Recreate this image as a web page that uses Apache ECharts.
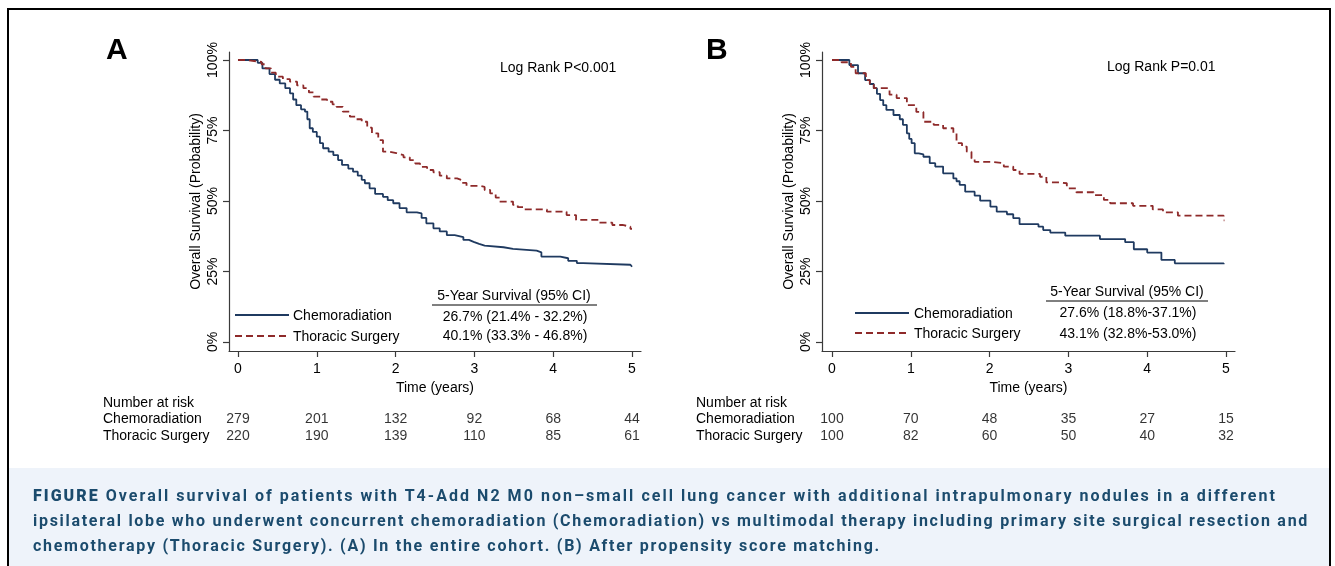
<!DOCTYPE html>
<html><head><meta charset="utf-8">
<script src="https://cdn.jsdelivr.net/npm/echarts@6/dist/echarts.min.js"></script>
<style>
html,body{margin:0;padding:0;background:#fff;}
#wrap{position:relative;width:1335px;height:566px;overflow:hidden;}
#chart{position:absolute;left:0;top:0;width:1335px;height:566px;}
#caption{position:absolute;left:33px;top:483px;font-family:Roboto,"Liberation Sans",sans-serif;font-weight:700;font-size:16px;line-height:25px;color:#1b4b6d;white-space:nowrap;}
#caption .ln{display:block;}
#caption .ln span{display:inline-block;}
#caption b{font-weight:900;}
</style></head><body>
<div id="wrap"><div id="chart"></div>
<div id="caption">
<div class="ln"><span><b>FIGURE</b> Overall survival of patients with T4-Add N2 M0 non–small cell lung cancer with additional intrapulmonary nodules in a different</span></div>
<div class="ln"><span>ipsilateral lobe who underwent concurrent chemoradiation (Chemoradiation) vs multimodal therapy including primary site surgical resection and</span></div>
<div class="ln"><span>chemotherapy (Thoracic Surgery). (A) In the entire cohort. (B) After propensity score matching.</span></div>
</div></div>
<script>
// ---------- data ----------
const years = [0, 1, 2, 3, 4, 5];
const yTicks = [0, 25, 50, 75, 100];
const groups = ['Chemoradiation', 'Thoracic Surgery'];

// Kaplan-Meier estimates [time (years), survival %]
const kmA_chemo = [[0,100],[0.25,99],[0.31,97],[0.4,95],[0.47,93],[0.53,91.7],[0.6,90],[0.66,88.2],[0.7,86],[0.74,84],[0.8,82.5],[0.85,81.7],[0.88,79],[0.91,75.8],[0.95,74.5],[1.0,72.8],[1.04,70.5],[1.08,68.7],[1.15,67.5],[1.21,66.3],[1.27,64.5],[1.32,62.8],[1.4,61.5],[1.46,60.4],[1.52,59],[1.57,57.5],[1.61,56.3],[1.67,54.5],[1.74,52.5],[1.84,51.5],[1.9,50.3],[1.97,49.2],[2.05,47.5],[2.14,46],[2.27,45.6],[2.33,44],[2.39,42.1],[2.48,40.3],[2.56,39.2],[2.65,37.9],[2.75,37.2],[2.86,36.2],[2.93,35.5],[2.99,34.8],[3.06,34.2],[3.13,33.6],[3.37,33],[3.49,32.4],[3.79,31.8],[3.85,30.3],[4.09,29.7],[4.19,28.8],[4.3,28],[4.38,27.4],[4.98,26.7],[5.0,26.7]];
const kmA_thor = [[0,100],[0.1,99.3],[0.3,98.5],[0.35,97],[0.42,95.5],[0.48,94.1],[0.57,93.2],[0.66,92.3],[0.75,91],[0.83,90],[0.9,88.5],[0.96,87],[1.05,86],[1.13,85.2],[1.2,84.3],[1.25,83.4],[1.33,81.7],[1.42,79.9],[1.5,79],[1.57,78.1],[1.64,76],[1.7,74],[1.78,71.6],[1.84,67.5],[1.92,67],[2.01,66.3],[2.1,65.5],[2.18,64.5],[2.25,63.3],[2.31,62.1],[2.4,61],[2.48,60.2],[2.56,59],[2.65,58],[2.78,57.4],[2.84,56.4],[2.9,55.4],[3.07,55],[3.13,53.9],[3.2,52.7],[3.27,51.2],[3.32,49.8],[3.49,48.6],[3.55,47.8],[3.62,47],[3.92,46.2],[4.17,45],[4.29,43.3],[4.58,42.3],[4.75,41.5],[4.88,40.9],[4.98,40.1],[5.0,40.1]];
const kmB_chemo = [[0,100],[0.22,98.2],[0.33,95.3],[0.42,92.9],[0.48,91.5],[0.53,90],[0.57,88],[0.61,85.8],[0.65,84],[0.69,82.3],[0.78,80.5],[0.86,79],[0.9,77],[0.95,74],[0.98,72],[1.01,70.5],[1.05,66.9],[1.1,66.5],[1.16,65.7],[1.24,63.4],[1.31,62.2],[1.41,59.8],[1.54,58],[1.58,57],[1.62,55.7],[1.69,53.3],[1.81,51.9],[1.88,50.1],[2.01,48],[2.09,46.2],[2.22,45.3],[2.3,43.9],[2.38,41.8],[2.62,40.9],[2.68,39.7],[2.77,38.8],[2.96,37.7],[3.4,36.5],[3.72,35.4],[3.83,32.9],[4.0,31.7],[4.18,29.1],[4.35,27.9],[4.97,27.6]];
const kmB_thor = [[0,100],[0.12,99.2],[0.24,97.6],[0.3,95.3],[0.43,92.9],[0.48,91.5],[0.53,90],[0.73,87.7],[0.82,86.5],[0.95,84],[1.07,81.6],[1.16,78.1],[1.29,77],[1.41,75.8],[1.54,74],[1.58,70.5],[1.65,69.3],[1.71,67.5],[1.77,65.1],[1.81,63.9],[2.01,63.4],[2.18,62.2],[2.3,61],[2.38,59.6],[2.64,58.6],[2.72,56.6],[2.89,56.3],[2.98,54.5],[3.1,53.1],[3.32,52.1],[3.45,50.4],[3.53,49.2],[3.82,48.3],[4.07,47.0],[4.2,46.0],[4.39,44.8],[4.97,43.1],[4.98,43.1]];

// numbers at risk at years 0..5
const riskA_chemo = [279, 201, 132, 92, 68, 44];
const riskA_thor  = [220, 190, 139, 110, 85, 61];
const riskB_chemo = [100, 70, 48, 35, 27, 15];
const riskB_thor  = [100, 82, 60, 50, 40, 32];

const survHeader = '5-Year Survival (95% CI)';
const survA = ['26.7% (21.4% - 32.2%)', '40.1% (33.3% - 46.8%)'];
const survB = ['27.6% (18.8%-37.1%)', '43.1% (32.8%-53.0%)'];
const pA = 'Log Rank P<0.001';
const pB = 'Log Rank P=0.01';
const yTitle = 'Overall Survival (Probability)';
const xTitle = 'Time (years)';

// ---------- styles ----------
const FONT = '"Liberation Sans", Arial, sans-serif';
const BLUE = '#1f3a60';
const RED = '#8e2a2a';
const AXIS = '#3a3a3a';
const DASH = [7, 4];

const chart = echarts.init(document.getElementById('chart'), null, {renderer: 'canvas'});

function mainX(idx, min, max) {
  return {
    gridIndex: idx, type: 'value', min: min, max: max,
    axisLine: {show: true, onZero: false, lineStyle: {color: AXIS, width: 1.2}},
    axisTick: {show: true, customValues: years, length: 6, lineStyle: {color: AXIS, width: 1.2}},
    axisLabel: {customValues: years, margin: 11, fontSize: 14, color: '#000', fontFamily: FONT},
    splitLine: {show: false},
    name: xTitle, nameLocation: 'middle', nameGap: 22,
    nameTextStyle: {fontSize: 14, color: '#000', fontFamily: FONT}
  };
}
function mainY(idx) {
  return {
    gridIndex: idx, type: 'value', min: -3.19, max: 102.84,
    axisLine: {show: true, onZero: false, lineStyle: {color: AXIS, width: 1.2}},
    axisTick: {show: true, customValues: yTicks, length: 6, lineStyle: {color: AXIS, width: 1.2}},
    axisLabel: {customValues: yTicks, rotate: 90, margin: 9, fontSize: 14, color: '#000', fontFamily: FONT, formatter: '{value}%'},
    splitLine: {show: false},
    name: yTitle, nameLocation: 'middle', nameGap: 26,
    nameTextStyle: {fontSize: 14, color: '#000', fontFamily: FONT}
  };
}
function riskX(idx, min, max) {
  return {gridIndex: idx, type: 'value', min: min, max: max, show: false};
}
function riskY(idx) {
  return {gridIndex: idx, type: 'value', min: 0, max: 1, show: false};
}
function kmSeries(name, data, xi, color, dashed) {
  return {
    type: 'line', name: name, xAxisIndex: xi, yAxisIndex: xi, data: data,
    step: 'end', symbol: 'none', silent: true,
    lineStyle: {color: color, width: 1.8, type: dashed ? DASH : 'solid'},
    itemStyle: {color: color}
  };
}
function riskSeries(counts, row, xi) {
  return {
    type: 'scatter', xAxisIndex: xi, yAxisIndex: xi, silent: true,
    data: counts.map((n, i) => [years[i], row, n]),
    symbol: 'circle', symbolSize: 1, itemStyle: {color: 'rgba(0,0,0,0)'},
    label: {show: true, position: 'inside', formatter: p => String(p.value[2]), fontSize: 14, color: '#000', fontFamily: FONT}
  };
}
function txt(x, y, text, opts) {
  return {type: 'text', x: x, y: y, silent: true,
    style: Object.assign({text: text, fill: '#000', fontSize: 14, fontFamily: FONT, align: 'left', verticalAlign: 'middle'}, opts || {})};
}
function hline(x1, x2, y, color, w, dash) {
  return {type: 'line', silent: true, shape: {x1: x1, y1: y, x2: x2, y2: y},
    style: {stroke: color, lineWidth: w, lineDash: dash || null}};
}

const A_MIN = -0.114, A_MAX = 5.114, B_MIN = -0.127, B_MAX = 5.114;

const option = {
  animation: false,
  backgroundColor: '#fff',
  grid: [
    {left: 229, top: 52, width: 412, height: 299},
    {left: 822, top: 52, width: 413, height: 299},
    {left: 229, top: 419, width: 412, height: 17},
    {left: 822, top: 419, width: 413, height: 17}
  ],
  xAxis: [mainX(0, A_MIN, A_MAX), mainX(1, B_MIN, B_MAX), riskX(2, A_MIN, A_MAX), riskX(3, B_MIN, B_MAX)],
  yAxis: [mainY(0), mainY(1), riskY(2), riskY(3)],
  series: [
    kmSeries(groups[0], kmA_chemo, 0, BLUE, false),
    kmSeries(groups[1], kmA_thor, 0, RED, true),
    kmSeries(groups[0], kmB_chemo, 1, BLUE, false),
    kmSeries(groups[1], kmB_thor, 1, RED, true),
    riskSeries(riskA_chemo, 1, 2), riskSeries(riskA_thor, 0, 2),
    riskSeries(riskB_chemo, 1, 3), riskSeries(riskB_thor, 0, 3)
  ],
  graphic: [
    {type: 'rect', silent: true, z: -10, shape: {x: 9, y: 468, width: 1320, height: 100}, style: {fill: '#eef3fa'}},
    {type: 'rect', silent: true, shape: {x: 8, y: 9, width: 1322, height: 570}, style: {fill: 'none', stroke: '#000', lineWidth: 2}},
    txt(106, 51, 'A', {fontSize: 30, fontWeight: 'bold'}),
    txt(706, 51, 'B', {fontSize: 30, fontWeight: 'bold'}),
    txt(500, 68, pA),
    txt(1107, 67, pB),
    // legend A
    hline(235, 289, 315, BLUE, 1.8),
    hline(235, 289, 336, RED, 1.8, DASH),
    txt(293, 316, groups[0]),
    txt(293, 337, groups[1]),
    // legend B
    hline(855, 909, 313, BLUE, 1.8),
    hline(855, 909, 333, RED, 1.8, DASH),
    txt(914, 314, groups[0]),
    txt(914, 334, groups[1]),
    // 5-year survival tables
    txt(514, 296, survHeader, {align: 'center'}),
    hline(432, 597, 305, '#000', 1),
    txt(515, 317, survA[0], {align: 'center'}),
    txt(515, 336, survA[1], {align: 'center'}),
    txt(1127, 292, survHeader, {align: 'center'}),
    hline(1046, 1208, 301, '#000', 1),
    txt(1128, 313, survB[0], {align: 'center'}),
    txt(1128, 334, survB[1], {align: 'center'}),
    // number at risk labels
    txt(103, 403, 'Number at risk'),
    txt(103, 419, groups[0]),
    txt(103, 436, groups[1]),
    txt(696, 403, 'Number at risk'),
    txt(696, 419, groups[0]),
    txt(696, 436, groups[1])
  ]
};
chart.setOption(option);

// fit caption letter spacing to the reference line lengths
const targets = [1244, 1276, 848];
function fitCaption() {
  const spans = document.querySelectorAll('#caption .ln > span');
  spans.forEach((s, i) => {
    s.style.letterSpacing = '0px';
    const w = s.getBoundingClientRect().width;
    const n = s.textContent.length;
    const ls = (targets[i] - w) / n;
    s.style.letterSpacing = ls.toFixed(3) + 'px';
  });
}
fitCaption();
if (document.fonts && document.fonts.ready) document.fonts.ready.then(fitCaption);
</script>
</body></html>
